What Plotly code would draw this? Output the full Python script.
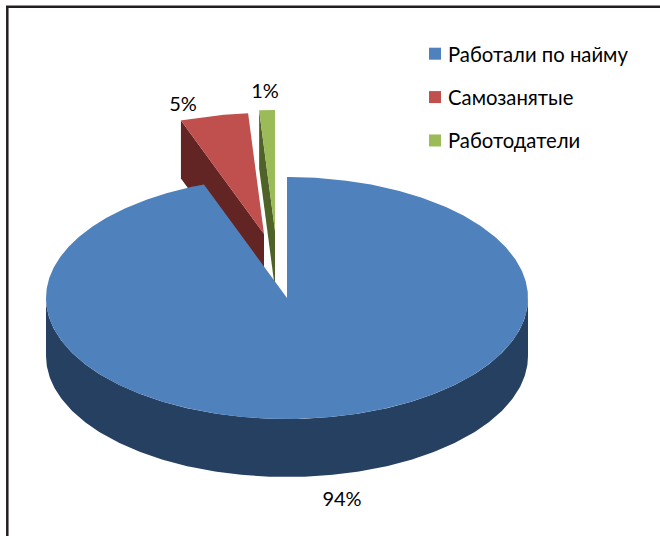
import numpy as np
import plotly.graph_objects as go

# --- data ---
categories = ["Работали по найму", "Самозанятые", "Работодатели"]
shares = [94.4, 4.55, 1.05]
colors = ["#4F81BD", "#C0504D", "#9BBB59"]
dark_colors = ["#254061", "#632523", "#4F6228"]

# --- pseudo-3D pie geometry (pixels) ---
W, H = 660, 536
CX, CY, RX, RY = 287, 298, 241, 121
DEPTH = 58
apex_offset = [(0, 0), (-23, -64), (-12, -67)]
label_pos = [(342, 501), (183, 106), (265, 93)]
FONT = "Lato, 'Noto Sans', sans-serif"

angles = np.concatenate([[0], np.cumsum(shares)]) / 100 * 2 * np.pi


def rim(a0, a1, ax, ay, n=240):
    t = np.linspace(a0, a1, n)
    return ax + RX * np.sin(t), ay - RY * np.cos(t)


fig = go.Figure()


def poly(x, y, color):
    fig.add_trace(go.Scatter(x=list(x), y=list(y), mode="lines", fill="toself",
                             fillcolor=color, line=dict(width=0), hoverinfo="skip",
                             showlegend=False))


# green: cut side then top
ax, ay = CX + apex_offset[2][0], CY + apex_offset[2][1]
rx2, ry2 = rim(angles[2], angles[3], ax, ay)
poly([rx2[0], ax, ax, rx2[0], rx2[0]],
     [ry2[0], ay, ay + DEPTH, ry2[0] + DEPTH, ry2[0]], dark_colors[2])
poly(np.r_[ax, rx2, ax], np.r_[ay, ry2, ay], colors[2])

# red: cut side then top
ax, ay = CX + apex_offset[1][0], CY + apex_offset[1][1]
rx1, ry1 = rim(angles[1], angles[2], ax, ay)
poly([rx1[0], ax, ax, rx1[0], rx1[0]],
     [ry1[0], ay, ay + DEPTH, ry1[0] + DEPTH, ry1[0]], dark_colors[1])
poly(np.r_[ax, rx1, ax], np.r_[ay, ry1, ay], colors[1])

# blue: outer wall then top
bx, by = rim(np.pi / 2, 3 * np.pi / 2, CX, CY)
poly(np.r_[bx, bx[::-1]], np.r_[by, by[::-1] + DEPTH], dark_colors[0])
rx0, ry0 = rim(angles[0], angles[1], CX, CY, n=600)
poly(np.r_[CX, rx0, CX], np.r_[CY, ry0, CY], colors[0])

# value labels
fig.add_trace(go.Scatter(
    x=[p[0] for p in label_pos], y=[p[1] for p in label_pos], mode="text",
    text=[f"{round(v)}%" for v in shares], textposition="middle center",
    textfont=dict(family=FONT, size=20, color="#000000"), hoverinfo="skip", showlegend=False))

# legend entries
for name, col in zip(categories, colors):
    fig.add_trace(go.Scatter(x=[None], y=[None], mode="markers", name=name, legendgroup=name,
                             marker=dict(symbol="square", size=12, color=col)))

fig.update_layout(
    width=W, height=H, margin=dict(l=0, r=0, t=0, b=0),
    paper_bgcolor="white", plot_bgcolor="white",
    xaxis=dict(range=[0, W], visible=False, fixedrange=True),
    yaxis=dict(range=[H, 0], visible=False, fixedrange=True),
    legend=dict(x=408 / W, y=1 - 34 / H, xanchor="left", yanchor="top",
                font=dict(family=FONT, size=20.3, color="#000000"), tracegroupgap=14,
                bgcolor="rgba(0,0,0,0)", itemsizing="constant"),
    shapes=[
        dict(type="line", xref="x", yref="y", x0=6, x1=W, y0=6.8, y1=6.8,
             line=dict(color="#231F20", width=2.5)),
        dict(type="line", xref="x", yref="y", x0=7.3, x1=7.3, y0=6, y1=H,
             line=dict(color="#231F20", width=2.5)),
    ],
)
fig.write_html(
    "out.html",
    config={"displayModeBar": False},
    post_script=(
        "document.documentElement.style.overflow='hidden';"
        "document.body.style.margin='0';"
        "document.querySelectorAll('.legendpoints').forEach(function(g){"
        "g.setAttribute('transform','translate(7,0)');});"
    ),
)
